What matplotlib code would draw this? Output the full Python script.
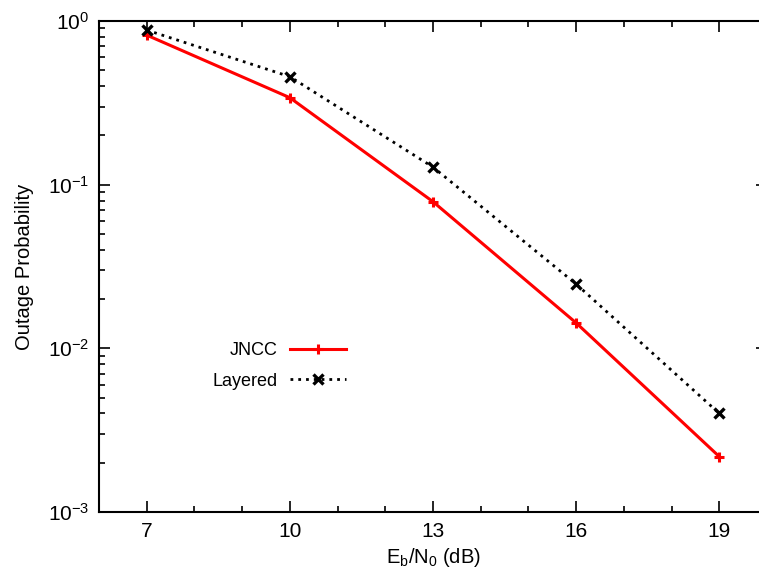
import numpy as np
import matplotlib
matplotlib.use("Agg")
import matplotlib.pyplot as plt
from matplotlib.ticker import LogLocator, MultipleLocator, NullFormatter

plt.rcParams['font.family'] = ['Liberation Sans', 'DejaVu Sans']
plt.rcParams['mathtext.default'] = 'regular'

# Eb/N0 in dB
snr = [7, 10, 13, 16, 19]
jncc = [0.82, 0.34, 0.0787, 0.0143, 0.00218]
layered = [0.88, 0.457, 0.128, 0.0247, 0.0040]

fig = plt.figure(figsize=(7.59, 5.76), dpi=100)
ax = fig.add_axes([99 / 759, 64 / 576, 668 / 759, 491 / 576])

ax.plot(snr, jncc, color='#ff0000', lw=2.2, marker='+', ms=7, mew=2.2,
        label='JNCC')
ax.plot(snr, layered, color='black', lw=2.0, ls=(0, (1, 1.8)),
        dash_capstyle='butt', marker='x', ms=7, mew=2.4, label='Layered')

ax.set_yscale('log')
ax.set_xlim(6, 20)
ax.set_ylim(1e-3, 1)
ax.set_xticks(snr)
ax.xaxis.set_minor_locator(MultipleLocator(1))
ax.yaxis.set_major_locator(LogLocator(base=10, numticks=10))
ax.yaxis.set_minor_locator(LogLocator(base=10, subs=np.arange(2, 10), numticks=20))
ax.yaxis.set_minor_formatter(NullFormatter())

ax.tick_params(which='both', direction='in', top=True, right=True,
               width=1.2, labelsize=15, pad=7)
ax.tick_params(which='major', length=8)
ax.tick_params(which='minor', length=4)
for sp in ax.spines.values():
    sp.set_linewidth(1.5)

ax.set_xlabel(r'E$_b$/N$_0$ (dB)', fontsize=14.5, labelpad=4)
ax.set_ylabel('Outage Probability', fontsize=14.5, labelpad=10)

ax.legend(loc='center right', bbox_to_anchor=(346 / 759, (576 - 366) / 576),
          bbox_transform=fig.transFigure, frameon=False, markerfirst=False,
          numpoints=1, fontsize=13, handlelength=3.1, handletextpad=0.7,
          labelspacing=0.75, borderpad=0, borderaxespad=0)

fig.savefig('out.png', dpi=100)
